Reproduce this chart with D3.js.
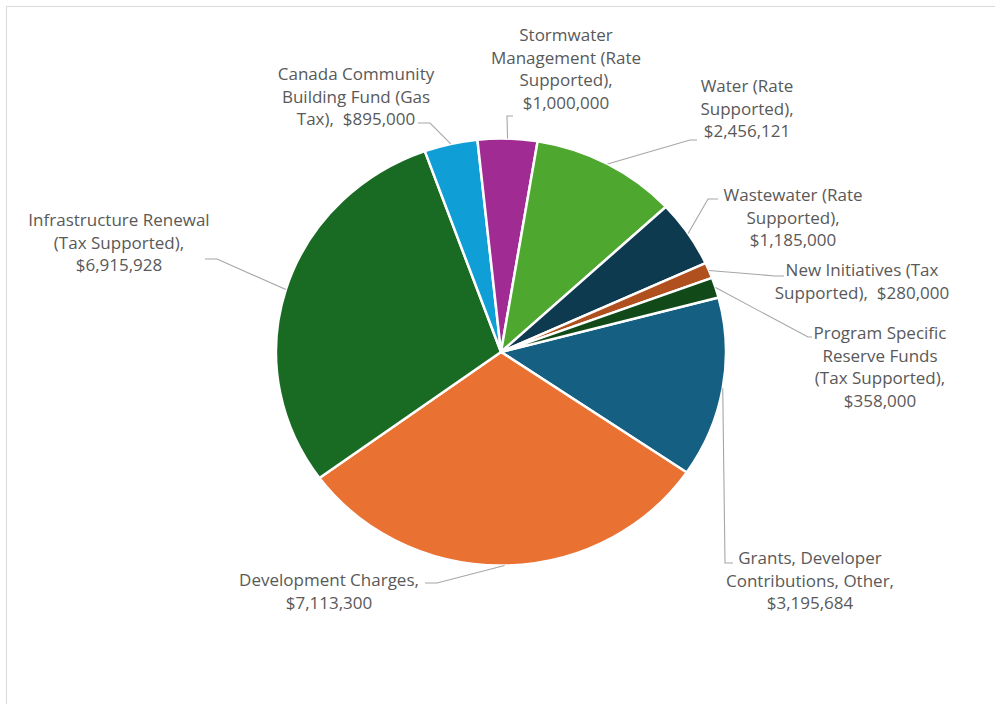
<!DOCTYPE html>
<html><head><meta charset="utf-8">
<script src="https://cdn.jsdelivr.net/npm/d3@7"></script>
<style>html,body{margin:0;padding:0;background:#fff;}svg{display:block;}</style>
</head><body>
<svg id="chart" width="995" height="704"></svg>
<script>
// ---- data ----
const categories = [
  "Grants, Developer Contributions, Other",
  "Development Charges",
  "Infrastructure Renewal (Tax Supported)",
  "Canada Community Building Fund (Gas Tax)",
  "Stormwater Management (Rate Supported)",
  "Water (Rate Supported)",
  "Wastewater (Rate Supported)",
  "New Initiatives (Tax Supported)",
  "Program Specific Reserve Funds (Tax Supported)"
];
const values = [3195684, 7113300, 6915928, 895000, 1000000, 2456121, 1185000, 280000, 358000];
const valueLabels = ["$3,195,684","$7,113,300","$6,915,928","$895,000","$1,000,000","$2,456,121","$1,185,000","$280,000","$358,000"];
const labelLines = [
  ["Grants, Developer","Contributions, Other,","$3,195,684"],
  ["Development Charges,","$7,113,300"],
  ["Infrastructure Renewal","(Tax Supported),","$6,915,928"],
  ["Canada Community","Building Fund (Gas","Tax),  $895,000"],
  ["Stormwater","Management (Rate","Supported),","$1,000,000"],
  ["Water (Rate","Supported),","$2,456,121"],
  ["Wastewater (Rate","Supported),","$1,185,000"],
  ["New Initiatives (Tax","Supported),  $280,000"],
  ["Program Specific","Reserve Funds","(Tax Supported),","$358,000"]
];
const colors = ["#156082","#E97132","#196B24","#0F9ED5","#A02B93","#4EA72E","#0E3A4F","#B0501E","#114A18"];

// ---- layout (positions, not data) ----
const cx = 501, cy = 352, rx = 225, ry = 213.5;
const startDeg = 75.2;
const labelLayout = [
  {x:810, y:564, pts:[[725,563],[733,563]]},
  {x:329, y:586, pts:[[437,583],[425,583]]},
  {x:119, y:226, pts:[[217,259],[205,259]]},
  {x:356, y:80,  pts:[[430,123],[418,123]]},
  {x:566, y:41,  pts:[[507,116],[513,116]]},
  {x:747, y:92,  pts:[[690,140],[697,140]]},
  {x:793, y:201, pts:[[708,199],[718,199]]},
  {x:862, y:276, pts:[[775,276],[784,276]]},
  {x:880, y:339, pts:[[808,337],[812,337]]}
];
const lineH = 22.7;

const svg = d3.select("#chart");
// chart border
svg.append("rect").attr("x",6.5).attr("y",6.5).attr("width",1100).attr("height",1100)
  .attr("fill","none").attr("stroke","#d9d9d9").attr("stroke-width",1);

const data = categories.map((c,i)=>({name:c, value:values[i], i}));
const a0 = startDeg*Math.PI/180;
const pie = d3.pie().sort(null).value(d=>d.value).startAngle(a0).endAngle(a0+2*Math.PI);
const arcs = pie(data);
const arc = d3.arc().innerRadius(0).outerRadius(rx);

const g = svg.append("g").attr("transform",`translate(${cx},${cy}) scale(1,${ry/rx})`);
g.selectAll("path").data(arcs).join("path")
  .attr("d",arc)
  .attr("fill",d=>colors[d.data.i])
  .attr("stroke","#fff").attr("stroke-width",2.5)
  .attr("vector-effect","non-scaling-stroke")
  .attr("stroke-linejoin","round");

// leader lines
const line = d3.line();
arcs.forEach(d=>{
  const m = (d.startAngle+d.endAngle)/2;
  const p0 = [cx + rx*Math.sin(m), cy - ry*Math.cos(m)];
  const L = labelLayout[d.data.i];
  svg.append("path").attr("d",line([p0,...L.pts]))
    .attr("fill","none").attr("stroke","#a6a6a6").attr("stroke-width",1.1);
});

// labels
arcs.forEach(d=>{
  const L = labelLayout[d.data.i];
  const t = svg.append("text")
    .attr("text-anchor","middle")
    .attr("font-family","'Open Sans', 'Noto Sans', sans-serif")
    .attr("font-size",17)
    .attr("fill","#595959")
    .attr("xml:space","preserve");
  labelLines[d.data.i].forEach((s,k)=>{
    t.append("tspan").attr("x",L.x).attr("y",L.y + k*lineH).text(s);
  });
});
</script>
</body></html>
